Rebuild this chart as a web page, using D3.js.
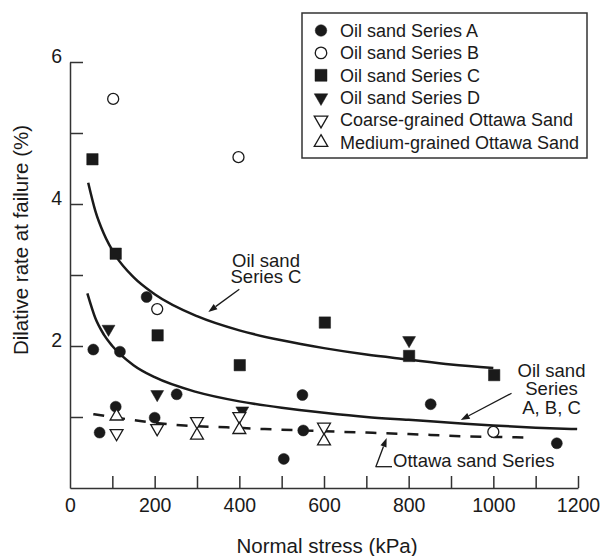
<!DOCTYPE html>
<html>
<head>
<meta charset="utf-8">
<script src="https://cdn.jsdelivr.net/npm/d3@7"></script>
<style>
  body { margin: 0; background: #fff; }
  svg text { font-family: "Liberation Sans", Arial, sans-serif; fill: #1a1a1a; }
</style>
</head>
<body>
<svg id="canvas" width="604" height="556"></svg>
<script>
// ---------------------------------------------------------------- data
var seriesA_x = [55, 70, 108, 118, 181, 200, 252, 505, 549, 551, 852, 1150];
var seriesA_y = [1.95, 0.78, 1.145, 1.92, 2.69, 0.99, 1.32, 0.41, 1.31, 0.81, 1.18, 0.63];

var seriesB_x = [102, 398, 206, 1000];
var seriesB_y = [5.48, 4.66, 2.52, 0.79];

var seriesC_x = [53, 108, 207, 401, 602, 801, 1002];
var seriesC_y = [4.63, 3.30, 2.15, 1.73, 2.33, 1.86, 1.59];

var seriesD_x = [91, 206, 407, 801];
var seriesD_y = [2.24, 1.32, 1.09, 2.08];

var coarse_x = [110, 206, 300, 400, 600];
var coarse_y = [0.77, 0.84, 0.94, 1.01, 0.86];

var medium_x = [110, 300, 400, 600];
var medium_y = [1.01, 0.74, 0.82, 0.66];

// fitted curves
var curveC_x = [43, 60, 80, 108, 150, 200, 300, 400, 500, 600, 700, 800, 900, 1000];
var curveC_y = [4.30, 3.90, 3.58, 3.27, 2.97, 2.73, 2.42, 2.22, 2.08, 1.97, 1.88, 1.81, 1.74, 1.69];

var curveABC_x = [41, 60, 80, 100, 150, 200, 300, 400, 500, 600, 700, 800, 900, 1000, 1100, 1198];
var curveABC_y = [2.74, 2.39, 2.16, 2.00, 1.73, 1.56, 1.35, 1.22, 1.13, 1.06, 1.00, 0.96, 0.92, 0.88, 0.85, 0.83];

var curveOtt_x = [55, 100, 170, 270, 370, 460, 550, 700, 800, 925, 1000, 1085];
var curveOtt_y = [1.04, 1.00, 0.94, 0.88, 0.855, 0.83, 0.81, 0.78, 0.76, 0.73, 0.72, 0.71];

var xTicks = [0, 100, 200, 300, 400, 500, 600, 700, 800, 900, 1000, 1100, 1200];
var xLabels = [0, 200, 400, 600, 800, 1000, 1200];
var yTicks = [1, 2, 3, 4, 5, 6];
var yLabels = [2, 4, 6];

var legendNames = ['Oil sand Series A', 'Oil sand Series B', 'Oil sand Series C',
  'Oil sand Series D', 'Coarse-grained Ottawa Sand', 'Medium-grained Ottawa Sand'];

// ---------------------------------------------------------------- setup
var svg = d3.select('#canvas');
var ink = '#1a1a1a';

var x = d3.scaleLinear().domain([0, 1200]).range([70, 578]);
var y = d3.scaleLinear().domain([0, 6]).range([488, 62]);

function zip(xs, ys) { return xs.map((d, i) => [d, ys[i]]); }

// marker styles, one per series (legend order)
var styles = [
  { type: d3.symbolCircle,   size: 95,  fill: ink,    rot: 0 },
  { type: d3.symbolCircle,   size: 95,  fill: '#fff', rot: 0 },
  { type: d3.symbolSquare,   size: 130, fill: ink,    rot: 0 },
  { type: d3.symbolTriangle, size: 72,  fill: ink,    rot: 180 },
  { type: d3.symbolTriangle, size: 72,  fill: '#fff', rot: 180 },
  { type: d3.symbolTriangle, size: 72,  fill: '#fff', rot: 0 }
];
var series = [
  zip(seriesA_x, seriesA_y), zip(seriesB_x, seriesB_y), zip(seriesC_x, seriesC_y),
  zip(seriesD_x, seriesD_y), zip(coarse_x, coarse_y), zip(medium_x, medium_y)
];

// ---------------------------------------------------------------- axes
var xAxis = svg.append('g').attr('transform', 'translate(0,' + y(0) + ')')
  .call(d3.axisBottom(x).tickValues(xTicks).tickSizeInner(-12).tickSizeOuter(0).tickPadding(10)
    .tickFormat(d => xLabels.indexOf(d) >= 0 ? d : ''));
var yAxis = svg.append('g').attr('transform', 'translate(' + x(0) + ',0)')
  .call(d3.axisLeft(y).tickValues(yTicks).tickSizeInner(-13).tickSizeOuter(0).tickPadding(8)
    .tickFormat(d => yLabels.indexOf(d) >= 0 ? d : ''));

[xAxis, yAxis].forEach(function(a){
  a.selectAll('path, line').attr('stroke', '#333').attr('stroke-width', 1.5);
  a.selectAll('text').style('font-size', '19.5px').attr('fill', ink);
});
xAxis.select('.tick line').attr('display', 'none'); // no tick at the corner
yAxis.selectAll('text').attr('dy', '0.05em');

svg.append('text').attr('x', 327).attr('y', 553).attr('text-anchor', 'middle')
  .style('font-size', '20.5px').text('Normal stress (kPa)');
svg.append('text').attr('transform', 'translate(28,240) rotate(-90)').attr('text-anchor', 'middle')
  .style('font-size', '20.5px').text('Dilative rate at failure (%)');

// ---------------------------------------------------------------- curves
var line = d3.line().x(d => x(d[0])).y(d => y(d[1])).curve(d3.curveMonotoneX);

[[curveC_x, curveC_y, null], [curveABC_x, curveABC_y, null], [curveOtt_x, curveOtt_y, '11,10']]
  .forEach(function(c){
    svg.append('path').datum(zip(c[0], c[1])).attr('d', line)
      .attr('fill', 'none').attr('stroke', ink).attr('stroke-width', 2.5)
      .attr('stroke-dasharray', c[2]);
  });

// ---------------------------------------------------------------- points
series.forEach(function(pts, i){
  var s = styles[i];
  svg.append('g').selectAll('path').data(pts).enter().append('path')
    .attr('d', d3.symbol().type(s.type).size(s.size))
    .attr('transform', d => 'translate(' + x(d[0]) + ',' + y(d[1]) + ') rotate(' + s.rot + ')')
    .attr('fill', s.fill).attr('stroke', ink).attr('stroke-width', s.fill === ink ? 0.5 : 1.3);
});

// ---------------------------------------------------------------- annotations
function arrow(x1, y1, x2, y2) {
  var px1 = x(x1), py1 = y(y1), px2 = x(x2), py2 = y(y2);
  var ang = Math.atan2(py2 - py1, px2 - px1), L = 9, W = 3.2;
  var bx = px2 - L * Math.cos(ang), by = py2 - L * Math.sin(ang);
  svg.append('line').attr('x1', px1).attr('y1', py1).attr('x2', bx).attr('y2', by)
    .attr('stroke', ink).attr('stroke-width', 1.3);
  svg.append('path').attr('fill', ink)
    .attr('d', 'M' + px2 + ',' + py2 +
      'L' + (bx + W * Math.sin(ang)) + ',' + (by - W * Math.cos(ang)) +
      'L' + (bx - W * Math.sin(ang)) + ',' + (by + W * Math.cos(ang)) + 'Z');
}
function label(lines, px, py, lh) {
  lines.forEach(function(s, i){
    svg.append('text').attr('text-anchor', 'middle').style('font-size', '18.5px')
      .attr('x', px).attr('y', py + i * lh).text(s);
  });
}

label(['Oil sand', 'Series C'], 266, 267, 15.8);
arrow(400, 2.80, 326.7, 2.48);

label(['Oil sand', 'Series', 'A, B, C'], 551.5, 377, 18.3);
arrow(1043, 1.334, 923, 0.958);

svg.append('text').attr('x', 393).attr('y', 466.7).style('font-size', '18.5px').text('Ottawa sand Series');
svg.append('line').attr('x1', 392).attr('y1', 466.7).attr('x2', 375.5).attr('y2', 466.7)
  .attr('stroke', ink).attr('stroke-width', 1.3);
arrow(722.5, 0.30, 748, 0.704);

// ---------------------------------------------------------------- legend
var lg = svg.append('g');
lg.append('rect').attr('x', 302).attr('y', 13).attr('width', 285).attr('height', 145)
  .attr('fill', '#fff').attr('stroke', '#333').attr('stroke-width', 1.5);
legendNames.forEach(function(name, i){
  var s = styles[i], cy = 30.5 + i * 22.4;
  lg.append('path').attr('d', d3.symbol().type(s.type).size(s.size * 1.1))
    .attr('transform', 'translate(321,' + cy + ') rotate(' + s.rot + ')')
    .attr('fill', s.fill).attr('stroke', ink).attr('stroke-width', s.fill === ink ? 0.5 : 1.3);
  lg.append('text').attr('x', 340).attr('y', cy + 6.3).style('font-size', '18px').text(name);
});
</script>
</body>
</html>
